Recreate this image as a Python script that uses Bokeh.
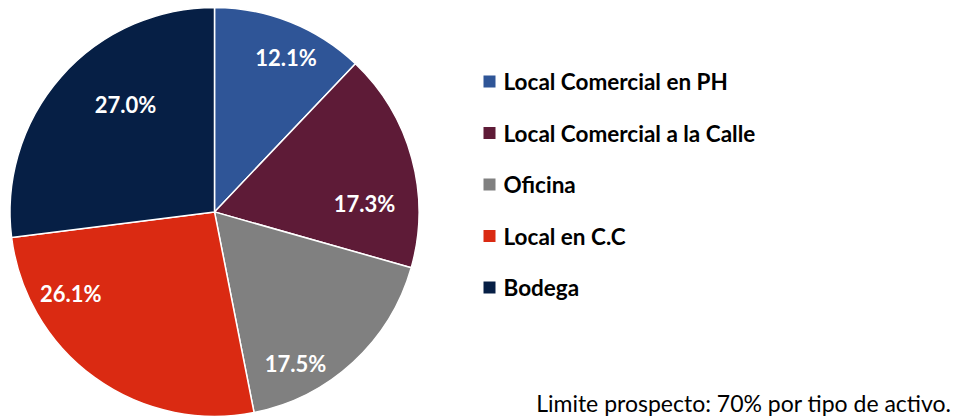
import math
from bokeh.plotting import figure
from bokeh.models import Range1d, ColumnDataSource
from bokeh.core.properties import value
from bokeh.embed import file_html
from bokeh.resources import INLINE

categories = ["Local Comercial en PH", "Local Comercial a la Calle", "Oficina", "Local en C.C", "Bodega"]
shares = [12.1, 17.3, 17.5, 26.1, 27.0]
colors = ["#2F5597", "#5E1B37", "#808080", "#DA2A12", "#061F45"]
footnote = "Limite prospecto: 70% por tipo de activo."

W, H = 962, 419
FONT = "Lato"

# layout (pixels)
cx, cy, R = 214, 207.6, 204.5
label_r = 0.75 * R
label_dx = [14.6, 2, -23, -54, 26]
label_dy = [-11.5, 32, 39, -43, -6]

total = sum(shares)
starts, ends, lx, ly, labels = [], [], [], [], []
cum = 0.0
for s in shares:
    a0 = math.pi / 2 - 2 * math.pi * cum / total
    a1 = math.pi / 2 - 2 * math.pi * (cum + s) / total
    starts.append(a0)
    ends.append(a1)
    mid = (a0 + a1) / 2
    lx.append(cx + label_r * math.cos(mid))
    ly.append(cy + label_r * math.sin(mid))
    labels.append(f"{s:.1f}%")
    cum += s

p = figure(width=W, height=H, output_backend="svg", toolbar_location=None,
           x_range=Range1d(0, W), y_range=Range1d(0, H), min_border=0)
p.axis.visible = False
p.grid.visible = False
p.outline_line_color = None
p.background_fill_color = "white"

src = ColumnDataSource(dict(start=starts, end=ends, color=colors, x=[cx] * 5, y=[cy] * 5))
p.wedge(x="x", y="y", radius=R, start_angle="start", end_angle="end", direction="clock",
        fill_color="color", line_color="white", line_width=1.5, source=src)

lsrc = ColumnDataSource(dict(x=lx, y=ly, text=labels, xo=label_dx, yo=label_dy))
p.text(x="x", y="y", text="text", x_offset="xo", y_offset="yo", source=lsrc,
       text_color="white", text_font=value(FONT), text_font_style="bold",
       text_font_size="22px", text_align="center", text_baseline="middle")

# legend
leg_x, leg_y0, leg_step = 489, 338, 51.5
leg_y = [leg_y0 - i * leg_step for i in range(len(categories))]
gsrc = ColumnDataSource(dict(x=[leg_x] * len(categories), tx=[leg_x + 14] * len(categories),
                             y=leg_y, color=colors, text=categories))
p.scatter(x="x", y="y", marker="square", size=12, fill_color="color", line_color=None, source=gsrc)
p.text(x="tx", y="y", text="text", source=gsrc, text_color="black", text_font=value(FONT),
       text_font_style="bold", text_font_size="22.5px", text_align="left", text_baseline="middle")

p.text(x=[951], y=[17], text=[footnote], text_color="black", text_font=value(FONT),
       text_font_size="23px", text_align="right", text_baseline="alphabetic")

open("out.html", "w").write(file_html(p, INLINE))
